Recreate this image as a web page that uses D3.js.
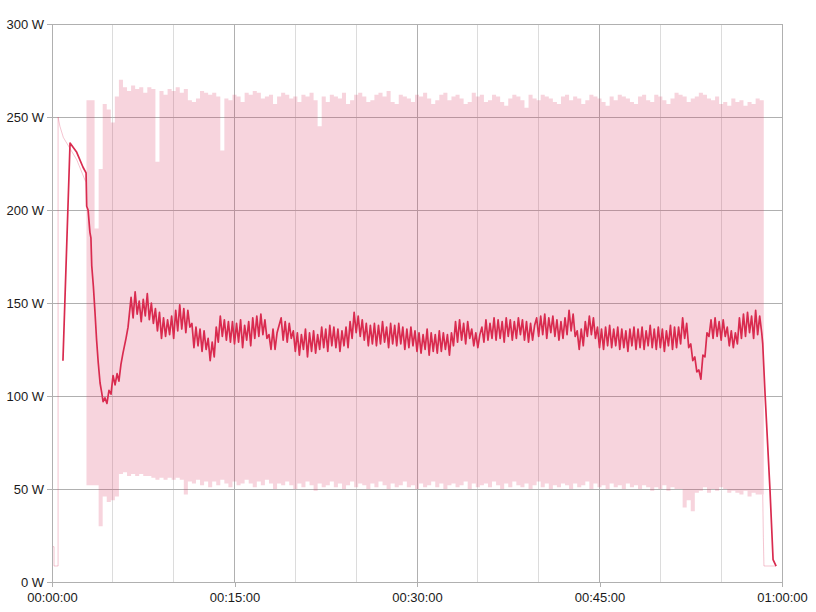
<!DOCTYPE html>
<html><head><meta charset="utf-8">
<script src="https://cdn.jsdelivr.net/npm/d3@7"></script>
<style>body{margin:0;background:#fff;} svg text{font-family:"Liberation Sans",Arial,sans-serif;}</style>
</head><body><svg id="c" width="816" height="612"></svg>
<script>
// ---- data ----
const yTicks = [0, 50, 100, 150, 200, 250, 300];
const xMajorTicks = [0, 900, 1800, 2700, 3600];           // seconds
const xMinorTicks = [300, 600, 1200, 1500, 2100, 2400, 3000, 3300];

// raw power: min/max envelope per 20 s bin, starting at 170 s
const bandStart = 170, bandStep = 20;
const bandUpper = [
 259,259,190,222,257,254,247,261,270,266,
 264,267,265,266,263,266,265,226,264,262,
 265,264,266,263,265,259,258,260,264,263,
 262,263,261,232,260,259,262,261,258,263,
 262,264,263,260,261,262,257,261,263,262,
 260,261,258,262,261,263,259,245,261,258,
 262,261,260,263,257,259,262,263,261,258,
 259,262,263,261,264,258,257,262,261,260,
 258,262,261,263,260,257,259,262,263,259,
 261,262,260,257,258,263,261,262,258,259,
 262,261,258,256,260,262,261,259,255,262,
 260,259,262,261,260,258,257,261,262,259,
 261,260,257,259,262,261,260,258,256,261,
 259,262,261,260,258,257,261,262,259,258,
 262,261,259,257,260,263,262,261,258,260,
 261,263,262,260,259,261,257,258,256,260,
 258,259,256,258,257,260,259,259];
const bandLower = [
 52,52,52,30,46,43,44,46,58,59,
 57,58,57,58,57,57,56,55,56,55,
 56,55,56,55,47,54,53,55,52,54,
 51,54,52,55,53,51,54,52,53,55,
 53,51,54,52,55,53,50,53,52,54,
 52,50,53,51,54,52,49,53,51,52,
 54,51,53,50,52,54,51,53,52,50,
 53,51,54,52,50,53,51,52,54,51,
 52,50,53,51,52,54,51,53,50,52,
 53,51,52,54,50,53,51,52,53,51,
 54,52,50,53,51,54,52,51,53,50,
 52,54,51,53,50,52,51,53,52,50,
 53,51,52,54,50,53,51,52,50,53,
 51,52,50,53,51,52,50,52,51,49,
 51,50,52,49,51,50,50,40,44,38,
 48,49,51,48,50,49,51,50,48,49,
 48,47,49,46,48,47,47,47];
// raw power before / after the band
const rawLeadT = [0, 10, 10, 30, 30, 39, 56, 89, 122, 163, 170];
const rawLeadW = [19, 19, 8.6, 8.6, 250, 245, 239, 233, 227, 216, 215];
const rawTailT = [3505, 3508, 3511, 3571];
const rawTailW = [47, 24, 8.6, 8.6];

// averaged power
const avgLeadT = [54, 89, 122, 153, 168, 171, 178, 187, 192, 196, 204, 212, 220, 228, 237, 245, 252, 261, 271, 281, 291, 301, 311, 321, 330, 340, 350, 365, 375];
const avgLeadW = [119, 236, 231, 223, 220, 202, 200, 188, 185, 170, 159, 145, 130, 118, 107, 102, 97, 99, 96, 103, 101, 111, 106, 112, 108, 117, 123, 131, 137];
const avgStart = 390, avgStep = 10;
const avgW = [
 153,142,156,144,151,140,152,143,155,141,
 150,139,147,135,145,131,142,132,141,133,
 143,131,146,135,149,136,147,134,146,137,
 139,126,137,127,136,124,135,125,131,119,
 129,121,137,129,143,132,141,130,140,129,
 140,128,139,129,141,126,138,130,140,127,
 142,131,143,132,144,133,141,131,133,125,
 136,125,134,138,142,130,140,129,139,131,
 135,124,134,122,133,125,136,121,134,124,
 135,123,133,125,137,126,136,124,138,127,
 137,126,136,124,135,127,137,126,140,131,
 145,134,143,132,141,130,139,127,138,128,
 139,127,138,128,140,129,137,126,139,128,
 138,127,139,128,137,125,136,126,137,127,
 135,124,134,123,133,125,136,122,134,124,
 133,123,135,124,134,125,133,122,134,127,
 140,129,141,130,139,128,140,131,136,127,
 134,126,133,137,129,141,130,139,131,142,
 130,141,131,140,129,142,132,141,130,140,
 131,142,133,141,130,140,129,139,130,138,
 142,132,143,133,144,131,142,134,143,132,
 141,130,140,131,142,133,146,135,144,132,
 135,125,136,127,140,132,143,133,142,131,
 137,126,136,125,137,127,138,126,136,127,
 137,125,136,126,135,124,136,127,137,125,
 136,126,137,125,135,127,138,126,136,125,
 137,126,136,124,135,127,138,125,137,126,
 137,128,142,131,139,126,128,119,121,113,
 114,109,122,121,134,132,141,131,142,132,
 140,130,141,132,137,127,135,126,134,128,
 142,131,144,132,145,134,143,131,146,133,
 143,134];
const avgTailT = [3505, 3517, 3541, 3556, 3571];
const avgTailW = [128, 100, 49, 12, 8.5];

// ---- chart ----
const svg = d3.select("#c");
const x = d3.scaleLinear().domain([0, 3600]).range([52, 782]);
const y = d3.scaleLinear().domain([0, 300]).range([582, 24]);
const fmt = s => {
  const h = Math.floor(s / 3600), m = Math.floor((s % 3600) / 60), ss = s % 60;
  return [h, m, ss].map(v => String(v).padStart(2, "0")).join(":");
};

// grid
svg.append("g").selectAll("line").data(xMinorTicks).join("line")
  .attr("x1", d => x(d)).attr("x2", d => x(d)).attr("y1", y(0)).attr("y2", y(300))
  .attr("stroke", "#dcdcdc").attr("stroke-width", 1).attr("shape-rendering", "crispEdges");
svg.append("g").selectAll("line").data(xMajorTicks).join("line")
  .attr("x1", d => x(d)).attr("x2", d => x(d)).attr("y1", y(0)).attr("y2", y(300))
  .attr("stroke", "#b0b0b0").attr("stroke-width", 1).attr("shape-rendering", "crispEdges");
svg.append("g").selectAll("line").data(yTicks).join("line")
  .attr("x1", x(0)).attr("x2", x(3600)).attr("y1", d => y(d)).attr("y2", d => y(d))
  .attr("stroke", "#b0b0b0").attr("stroke-width", 1).attr("shape-rendering", "crispEdges");

// raw band
const band = bandUpper.map((u, i) => ({t: bandStart + i * bandStep, hi: u, lo: bandLower[i]}));
const pink = "#dc3c64";
svg.append("path").datum(band)
  .attr("d", d3.area().curve(d3.curveStepAfter).x(d => x(d.t)).y0(d => y(d.lo)).y1(d => y(d.hi)))
  .attr("fill", pink).attr("fill-opacity", 0.22);
const line = d3.line().x(d => x(d[0])).y(d => y(d[1]));
svg.append("path").datum(rawLeadT.map((t, i) => [t, rawLeadW[i]]))
  .attr("d", line).attr("fill", "none").attr("stroke", pink).attr("stroke-opacity", 0.3).attr("stroke-width", 1);
svg.append("path").datum(rawTailT.map((t, i) => [t, rawTailW[i]]))
  .attr("d", line).attr("fill", "none").attr("stroke", pink).attr("stroke-opacity", 0.3).attr("stroke-width", 1);

// average line
const avg = avgLeadT.map((t, i) => [t, avgLeadW[i]])
  .concat(avgW.map((w, i) => [avgStart + i * avgStep, w]))
  .concat(avgTailT.map((t, i) => [t, avgTailW[i]]));
svg.append("path").datum(avg)
  .attr("d", line).attr("fill", "none").attr("stroke", "#d92b4f").attr("stroke-width", 1.7)
  .attr("stroke-linejoin", "round");

// axes
const yAxis = svg.append("g").attr("transform", `translate(${x(0)},0)`)
  .call(d3.axisLeft(y).tickValues(yTicks).tickSize(5).tickPadding(3).tickFormat(d => d + " W"));
const xAxis = svg.append("g").attr("transform", `translate(0,${y(0)})`)
  .call(d3.axisBottom(x).tickValues(xMajorTicks).tickSize(5).tickPadding(6).tickFormat(fmt));
[yAxis, xAxis].forEach(g => {
  g.select(".domain").attr("stroke", "#b0b0b0").attr("shape-rendering", "crispEdges");
  g.selectAll(".tick line").attr("stroke", "#b0b0b0").attr("shape-rendering", "crispEdges");
  g.selectAll("text").attr("fill", "#1a1a1a").attr("font-size", 13)
    .attr("font-family", "Liberation Sans, Arial, sans-serif");
});
</script></body></html>
